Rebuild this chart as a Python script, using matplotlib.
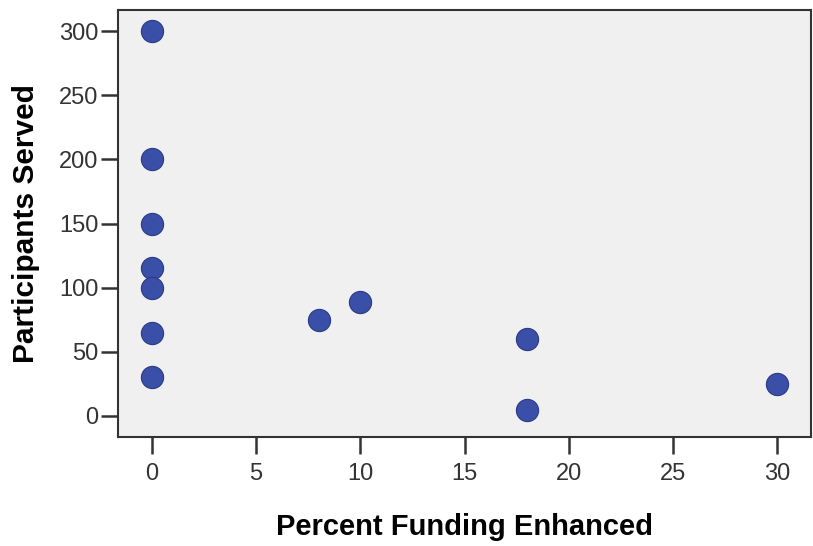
import matplotlib
matplotlib.use("Agg")
import matplotlib.pyplot as plt

# percent funding enhanced vs participants served
pct_funding = [0, 0, 0, 0, 0, 0, 0, 8, 10, 18, 18, 30]
participants = [300, 200, 150, 115, 100, 65, 30, 75, 89, 60, 5, 25]

x_ticks = [0, 5, 10, 15, 20, 25, 30]
y_ticks = [0, 50, 100, 150, 200, 250, 300]

plt.rcParams['font.family'] = ['Liberation Sans', 'DejaVu Sans']

fig = plt.figure(figsize=(8.13, 5.46), dpi=100)
ax = fig.add_axes([118/813, 1 - 437/546, (811-118)/813, (437-10)/546])
ax.set_facecolor('#F0F0F0')

ax.scatter(pct_funding, participants, s=16**2, color='#3A4FA8',
           edgecolors='#2B3A85', linewidths=0.8, zorder=3)

ax.set_xlim(-1.63, 31.63)
ax.set_ylim(-16.4, 316.4)
ax.set_xticks(x_ticks)
ax.set_yticks(y_ticks)
ax.tick_params(axis='both', direction='out', length=12, width=1.8,
               color='#333333', labelsize=17, labelcolor='#333333')
ax.tick_params(axis='x', pad=7)
ax.tick_params(axis='y', pad=2)

for side in ax.spines.values():
    side.set_color('#333333')
    side.set_linewidth(1.5)

ax.set_xlabel('Percent Funding Enhanced', fontsize=21, fontweight='bold', labelpad=20)
ax.set_ylabel('Participants Served', fontsize=21.5, fontweight='bold', labelpad=14)

fig.savefig('out.png', dpi=100)
